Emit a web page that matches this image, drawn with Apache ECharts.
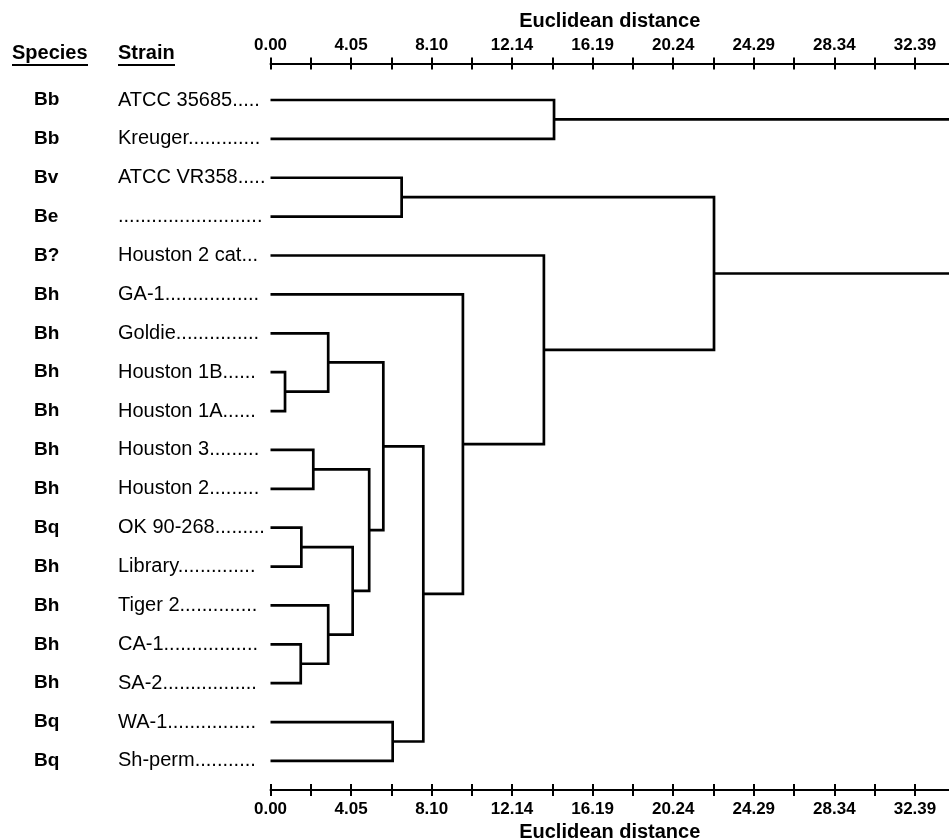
<!DOCTYPE html>
<html>
<head>
<meta charset="utf-8">
<script src="https://cdn.jsdelivr.net/npm/echarts@6/dist/echarts.min.js"></script>
<style>
  html, body { margin: 0; padding: 0; background: #fff; }
  #chart { width: 949px; height: 838px; }
</style>
</head>
<body>
<div id="chart"></div>
<script>
// leaves, top to bottom
const species = ['Bb', 'Bb', 'Bv', 'Be', 'B?', 'Bh', 'Bh', 'Bh', 'Bh', 'Bh', 'Bh', 'Bq', 'Bh', 'Bh', 'Bh', 'Bh', 'Bq', 'Bq'];
const strains = [
  'ATCC 35685.....',
  'Kreuger.............',
  'ATCC VR358.....',
  '..........................',
  'Houston 2 cat...',
  'GA-1.................',
  'Goldie...............',
  'Houston 1B......',
  'Houston 1A......',
  'Houston 3.........',
  'Houston 2.........',
  'OK 90-268.........',
  'Library..............',
  'Tiger 2..............',
  'CA-1.................',
  'SA-2.................',
  'WA-1................',
  'Sh-perm...........'
];

// merges: [left, right, distance]; leaves are 0-17, merge k becomes node 18 + k
const merges = [
  [7, 8, 0.73],
  [6, 18, 2.9],
  [9, 10, 2.15],
  [11, 12, 1.55],
  [14, 15, 1.52],
  [13, 22, 2.9],
  [21, 23, 4.13],
  [20, 24, 4.96],
  [19, 25, 5.67],
  [16, 17, 6.14],
  [26, 27, 7.68],
  [5, 28, 9.67],
  [4, 29, 13.74],
  [2, 3, 6.59],
  [31, 30, 22.29],
  [0, 1, 14.25],
  [33, 32, 36.5]   // root, off the right edge
];

const tickLabels = ['0.00', '4.05', '8.10', '12.14', '16.19', '20.24', '24.29', '28.34', '32.39'];
const xMax = 34.1;

const FONT = '"Liberation Sans", Arial, Helvetica, sans-serif';

// labelled ticks plus one unlabelled tick half way between each pair
const labelValues = tickLabels.map(Number);
const tickValues = [];
labelValues.forEach((v, i) => {
  tickValues.push(v);
  if (i < labelValues.length - 1) tickValues.push((v + labelValues[i + 1]) / 2);
});

// node positions
const pos = species.map((s, i) => i);
const hgt = species.map(() => 0);
const series = merges.map(([a, b, d]) => {
  pos.push((pos[a] + pos[b]) / 2);
  hgt.push(d);
  return {
    type: 'line',
    xAxisIndex: 0,
    yAxisIndex: 0,
    showSymbol: false,
    symbol: 'none',
    silent: true,
    animation: false,
    lineStyle: { color: '#000', width: 2.7, join: 'miter', cap: 'butt' },
    data: [[hgt[a], pos[a]], [d, pos[a]], [d, pos[b]], [hgt[b], pos[b]]]
  };
});

function xAxis(position, inside, offset, withLabels) {
  return {
    type: 'value',
    position: position,
    offset: offset,
    min: 0,
    max: xMax,
    splitLine: { show: false },
    axisLine: { show: !inside, onZero: false, lineStyle: { color: '#000', width: 2 } },
    axisTick: {
      show: true, inside: inside, length: 6, customValues: tickValues,
      lineStyle: { color: '#000', width: 2 }
    },
    axisLabel: {
      show: withLabels,
      customValues: labelValues,
      formatter: v => v.toFixed(2),
      margin: position === 'top' ? 10 : 11,
      color: '#000',
      fontFamily: FONT,
      fontWeight: 'bold',
      fontSize: 17
    },
    name: withLabels ? 'Euclidean distance' : '',
    nameLocation: 'middle',
    nameGap: position === 'top' ? 32 : 27,
    nameTextStyle: { color: '#000', fontFamily: FONT, fontWeight: 'bold', fontSize: 20 }
  };
}

const chart = echarts.init(document.getElementById('chart'), null, { renderer: 'canvas' });
chart.setOption({
  backgroundColor: '#fff',
  animation: false,
  grid: { left: 270.5, right: 0, top: 80.56, bottom: 57.6, containLabel: false, outerBoundsMode: 'none' },
  xAxis: [
    xAxis('top', false, 17, true),
    xAxis('top', true, 17, false),
    xAxis('bottom', false, 9.6, true),
    xAxis('bottom', true, 9.6, false)
  ],
  yAxis: [
    { type: 'value', show: false, inverse: true, min: -0.5, max: species.length - 0.5, axisLine: { onZero: false } },
    {
      type: 'category', inverse: true, position: 'left', data: strains,
      axisLine: { show: false, onZero: false }, axisTick: { show: false }, splitLine: { show: false },
      axisLabel: { interval: 0, align: 'left', margin: 152.5, color: '#000', fontFamily: FONT, fontSize: 20 }
    },
    {
      type: 'category', inverse: true, position: 'left', data: species,
      axisLine: { show: false, onZero: false }, axisTick: { show: false }, splitLine: { show: false },
      axisLabel: { interval: 0, align: 'left', margin: 236.5, color: '#000', fontFamily: FONT, fontWeight: 'bold', fontSize: 19 }
    }
  ],
  graphic: [
    { type: 'text', left: 12, top: 43, style: { text: 'Species', font: 'bold 20px ' + FONT, fill: '#000' } },
    { type: 'line', shape: { x1: 12, y1: 65, x2: 88, y2: 65 }, style: { stroke: '#000', lineWidth: 2 } },
    { type: 'text', left: 118, top: 43, style: { text: 'Strain', font: 'bold 20px ' + FONT, fill: '#000' } },
    { type: 'line', shape: { x1: 118, y1: 65, x2: 175, y2: 65 }, style: { stroke: '#000', lineWidth: 2 } }
  ],
  series: series
});
</script>
</body>
</html>
